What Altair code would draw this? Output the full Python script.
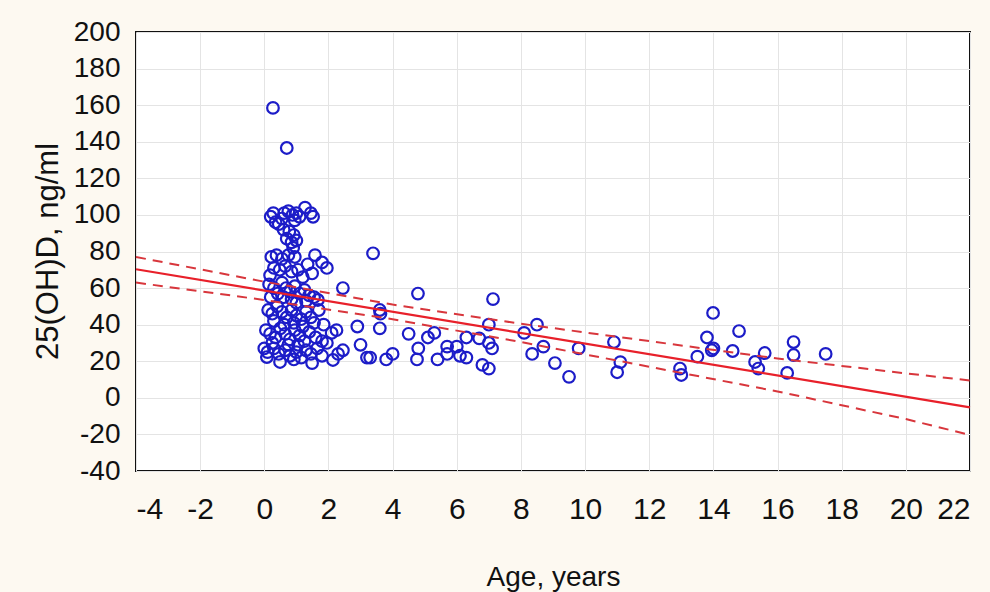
import altair as alt
import pandas as pd

# Scatter data: age (years) and 25(OH)D (ng/ml)
ages = [
    0.27, 0.70,
    0.20, 0.28, 0.35, 0.45, 0.62, 0.75, 0.88, 1.00, 0.95, 1.27, 1.45, 1.52, 0.55, 1.10,
    0.60, 0.78, 0.92, 0.70, 0.85, 1.00, 0.90,
    0.22, 0.38, 0.55, 0.75, 0.95, 1.58, 1.80, 1.95, 1.49, 1.35, 0.30, 0.48, 0.65, 1.05, 0.85, 0.18, 1.20,
    0.15, 0.30, 0.42, 0.55, 0.68, 0.80, 0.95, 1.10, 1.25, 1.40, 1.55, 1.67, 0.20, 0.60, 0.85, 1.00, 1.30,
    0.12, 0.25, 0.40, 0.55, 0.70, 0.85, 1.00, 1.15, 1.30, 1.45, 1.70, 0.30, 0.62, 0.92, 1.20, 1.55, 1.85,
    0.05, 0.18, 0.35, 0.50, 0.65, 0.80, 0.95, 1.10, 1.25, 1.40, 1.60, 1.80, 2.10, 2.25, 0.25, 0.75, 1.05, 1.95,
    0.00, 0.08, 0.10, 0.30, 0.49, 0.45, 0.65, 0.80, 0.92, 1.00, 1.15, 1.30, 1.49, 1.45, 1.65, 1.80, 2.14, 2.30, 2.45,
    2.45, 2.90, 3.00, 3.20, 3.39, 3.60, 3.62, 3.60, 3.30, 3.80, 4.00, 4.50, 4.80, 4.76, 4.79,
    5.10, 5.30, 5.40, 5.70, 5.70, 6.00, 6.10, 6.30, 6.30, 6.70, 6.80, 7.00, 7.00, 7.10, 7.00, 7.13,
    8.10, 8.50, 8.35, 8.70, 9.06, 9.50, 9.80, 10.90, 11.10, 11.00,
    12.96, 13.00, 13.50, 13.80, 13.95, 13.99, 14.00, 14.60, 14.80, 15.30, 15.40, 15.60,
    16.30, 16.50, 16.50, 17.50,
]
levels = [
    158.5, 136.6,
    99, 101, 96, 95, 101, 102, 100, 101, 97, 104, 101, 99, 98, 99,
    92, 91, 89, 87, 85, 86, 82,
    77, 78, 76, 78, 77, 78, 74, 71, 68, 73, 71, 70, 72, 70, 69, 67, 66,
    62, 60, 57, 63, 60, 58, 61, 57, 59, 56, 55, 53.5, 55, 55, 54, 52, 53,
    48, 46, 50, 47, 44, 48, 45, 43, 47, 44, 48, 42, 40, 41, 39, 41, 40,
    37, 35, 33, 38, 35, 32, 37, 34, 31, 36, 33, 31, 35.5, 37, 30, 29, 29, 30,
    27, 22.3, 25, 27, 19.6, 24, 26, 23, 21, 25, 22, 26, 19, 24, 27, 23, 20.7, 24, 26,
    60, 39, 29, 22, 79, 48, 46, 38, 22, 21, 24, 35, 27, 21, 57,
    33, 35.5, 21, 28, 24, 28, 23, 33, 22, 32.5, 18, 40, 30, 27, 16, 54,
    35.5, 40, 24, 28, 19, 11.5, 27, 30.5, 19.5, 14,
    16, 12.5, 22.5, 33, 26, 46.4, 27, 25.6, 36.5, 19.6, 16, 24.5,
    13.6, 23.4, 30.5, 24,
]

# Regression line and its confidence limits
fit_age = [-4, 22]
fit_val = [70.3, -5.2]
ci_age = [-4, 0, 4, 8, 12, 16, 20, 22]
ci_upper = [77, 63.5, 51, 40.5, 31, 21.5, 13.4, 9.5]
ci_lower = [63, 53.5, 43, 30.5, 17, 3.5, -11.6, -20.3]

x_ticks = list(range(-4, 23, 2))
y_ticks = list(range(-40, 201, 20))

pts = pd.DataFrame({"age": ages, "vitd": levels})
fit = pd.DataFrame({"age": fit_age, "vitd": fit_val})
upper = pd.DataFrame({"age": ci_age, "vitd": ci_upper})
lower = pd.DataFrame({"age": ci_age, "vitd": ci_lower})

xs = alt.Scale(domain=[-4, 22], nice=False, zero=False)
ys = alt.Scale(domain=[-40, 200], nice=False, zero=False)

FONT = "Liberation Sans"

x_axis = alt.Axis(
    values=x_ticks, tickCount=14, title="Age, years", grid=True, domain=False, ticks=False,
    labelExpr="toString(datum.value)", labelOverlap=False,
    labelFont=FONT, labelFontSize=30, labelPadding=23,
    labelColor="#111111", titleFont=FONT, titleFontSize=28,
    titleFontWeight="normal", titleColor="#111111", titleY=114,
    titleBaseline="alphabetic", gridColor="#e4e4e4", gridWidth=1,
)
y_axis = alt.Axis(
    values=y_ticks, tickCount=13, title="25(OH)D, ng/ml", grid=True, domain=False, ticks=False,
    labelExpr="toString(datum.value)", labelOverlap=False,
    labelFont=FONT, labelFontSize=28, labelPadding=16,
    labelColor="#111111", titleFont=FONT, titleFontSize=31,
    titleFontWeight="normal", titleColor="#111111", titleX=-79, titleY=219,
    titleBaseline="alphabetic", titleAngle=270, gridColor="#e4e4e4", gridWidth=1,
)

X = alt.X("age:Q", scale=xs, axis=x_axis)
Y = alt.Y("vitd:Q", scale=ys, axis=y_axis)

points = alt.Chart(pts).mark_point(
    shape="circle", filled=False, color="#1c1cc8", size=135, strokeWidth=2.2,
    opacity=1,
).encode(x=X, y=Y)

fit_line = alt.Chart(fit).mark_line(color="#e8202a", strokeWidth=2.2).encode(x=X, y=Y)
up_line = alt.Chart(upper).mark_line(
    color="#d8363c", strokeWidth=2, strokeDash=[10, 7]
).encode(x=X, y=Y)
lo_line = alt.Chart(lower).mark_line(
    color="#d8363c", strokeWidth=2, strokeDash=[10, 7]
).encode(x=X, y=Y)

chart = (
    alt.layer(points, fit_line, up_line, lo_line)
    .properties(
        width=834, height=439, autosize="none",
        padding={"left": 136, "top": 32, "right": 20, "bottom": 121},
        background="#fdf9f1",
    )
    .configure_view(fill="white", stroke="#111111", strokeWidth=2)
)

chart.save("out.html", embed_options={"renderer": "svg", "actions": False})
